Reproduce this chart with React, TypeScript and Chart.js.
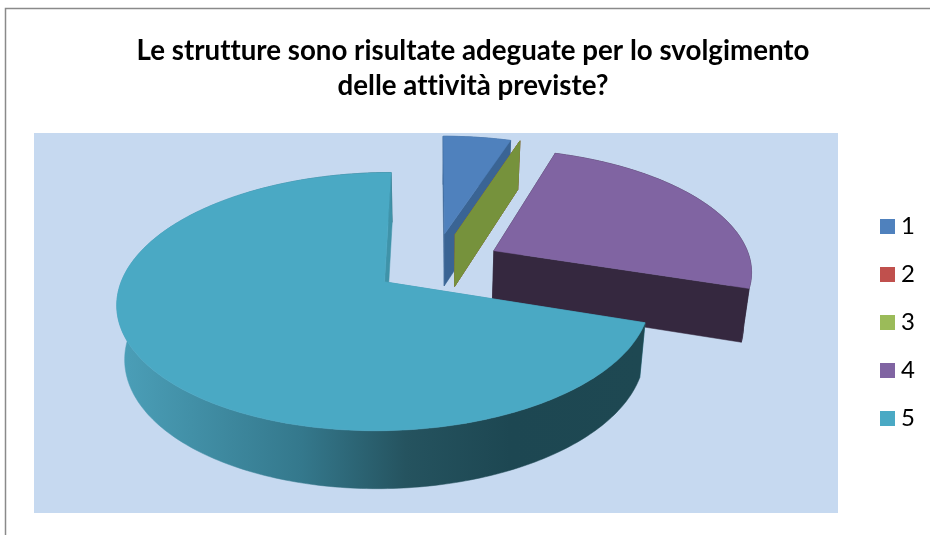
import React, { useEffect, useRef } from "react";
import { Chart, registerables } from "chart.js";

Chart.register(...registerables);

const categories = ["1", "2", "3", "4", "5"];
const values = [5, 0, 0, 25, 70];
const explodePct = [27, 27.5, 27.5, 26.5, 23.2];
const topColors = ["#4f81bd", "#c0504d", "#9bbb59", "#8064a2", "#4aa9c4"];
const radialWallColors = ["#3a6494", "#8c3a38", "#76923c", "#35283f", "#3f93a9"];
const outerWallColors = ["#3a6494", "#8c3a38", "#76923c", "#35283f", "#1e4852"];
const titleLines = [
  "Le strutture sono risultate adeguate per lo svolgimento",
  "delle attività previste?",
];

// View of the pie's tilted plane
const CX = 434, CY = 265, BX = 258, AY = 121, K = 0.15, DEPTH = 53, DEPTH_K = 0.075, BOTTOM_SCALE = 0.975;

const project = (u: number, v: number, lower: boolean) => {
  const w = 1 + K * v;
  const x = (BX * u) / w;
  const y = (-AY * v) / w;
  return lower
    ? { x: CX + x * BOTTOM_SCALE, y: CY + y + DEPTH / (1 + DEPTH_K * v) }
    : { x: CX + x, y: CY + y };
};

const swatch = (color: string) => {
  const c = document.createElement("canvas");
  c.width = 15;
  c.height = 15;
  const g = c.getContext("2d") as CanvasRenderingContext2D;
  g.fillStyle = color;
  g.fillRect(0, 0, 15, 15);
  return c;
};

const piePlugin = {
  id: "tiltedPie",
  beforeDraw(chart: any) {
    const { ctx } = chart;
    ctx.save();
    ctx.fillStyle = "#ffffff";
    ctx.fillRect(0, 0, 930, 535);
    ctx.fillStyle = "#c6d9f0";
    ctx.fillRect(34, 133, 804, 380);
    ctx.strokeStyle = "#8a8a8a";
    ctx.lineWidth = 1.5;
    ctx.beginPath();
    ctx.moveTo(5.5, 536);
    ctx.lineTo(5.5, 8.5);
    ctx.lineTo(931, 8.5);
    ctx.stroke();
    ctx.restore();
    ctx.textRendering = "optimizeSpeed";
  },
  beforeDatasetsDraw(chart: any) {
    const { ctx } = chart;
    const arcs = chart.getDatasetMeta(0).data;
    arcs.forEach((arc: any, i: number) => {
      const { startAngle, endAngle } = arc.getProps(["startAngle", "endAngle"], true);
      const e = explodePct[i] / 100;
      const mid = (startAngle + endAngle) / 2;
      const ou = e * Math.cos(mid);
      const ov = -e * Math.sin(mid);
      const pt = (a: number, r: number, lower: boolean) =>
        project(ou + r * Math.cos(a), ov - r * Math.sin(a), lower);
      const poly = (pts: { x: number; y: number }[], fill: any) => {
        ctx.beginPath();
        pts.forEach((p, n) => (n ? ctx.lineTo(p.x, p.y) : ctx.moveTo(p.x, p.y)));
        ctx.closePath();
        ctx.fillStyle = fill;
        ctx.fill();
        ctx.strokeStyle = fill;
        ctx.lineWidth = 0.5;
        ctx.stroke();
      };
      const radial = (a: number) =>
        poly([pt(a, 0, false), pt(a, 1, false), pt(a, 1, true), pt(a, 0, true)], radialWallColors[i]);
      const steps = Math.max(2, Math.ceil(((endAngle - startAngle) * 180) / Math.PI));
      const angles: number[] = [];
      for (let s = 0; s <= steps; s++) angles.push(startAngle + ((endAngle - startAngle) * s) / steps);

      radial(startAngle);
      if (endAngle > startAngle) {
        let wallFill: any = outerWallColors[i];
        if (i === 4) {
          const g = ctx.createLinearGradient(120, 0, 640, 0);
          g.addColorStop(0, "#4b9fb8");
          g.addColorStop(0.35, "#34788c");
          g.addColorStop(0.55, "#25535f");
          g.addColorStop(0.75, "#1d4752");
          g.addColorStop(1, "#1e4852");
          wallFill = g;
        }
        poly(
          [...angles.map((a) => pt(a, 1, false)), ...angles.slice().reverse().map((a) => pt(a, 1, true))],
          wallFill,
        );
      }
      radial(endAngle);
      if (endAngle > startAngle) {
        poly([pt(startAngle, 0, false), ...angles.map((a) => pt(a, 1, false))], topColors[i]);
      }
    });
    return false;
  },
};

export default function App() {
  const ref = useRef<HTMLCanvasElement>(null);
  useEffect(() => {
    const chart = new Chart(ref.current as HTMLCanvasElement, {
      type: "pie",
      data: {
        labels: categories,
        datasets: [
          {
            data: values,
            backgroundColor: topColors,
            borderWidth: 0,
            offset: explodePct,
          },
        ],
      },
      options: {
        responsive: false,
        animation: false,
        devicePixelRatio: 1,
        layout: { padding: { top: 33.5, right: 5, bottom: 0, left: 21 } },
        plugins: {
          title: {
            display: true,
            text: titleLines,
            color: "#000000",
            font: { family: "Lato", size: 27.7, weight: "bold", lineHeight: 1.26 },
            padding: { top: 0, bottom: 6.5 },
          },
          legend: {
            position: "right",
            fullSize: false,
            labels: {
              boxWidth: 15,
              boxHeight: 15,
              padding: 24,
              color: "#000000",
              font: { family: "Lato", size: 24, lineHeight: 1.2 },
              usePointStyle: true,
              pointStyleWidth: 3,
              generateLabels: (c: any) =>
                (Chart as any).overrides.pie.plugins.legend.labels
                  .generateLabels(c)
                  .map((item: any, i: number) => ({ ...item, pointStyle: swatch(topColors[i]) })),
            },
          },
          tooltip: { enabled: false },
        },
      },
      plugins: [piePlugin],
    } as any);
    return () => chart.destroy();
  }, []);
  return (
    <div style={{ position: "fixed", left: 0, top: 0, width: 930, height: 535 }}>
      <canvas ref={ref} width={930} height={535} style={{ display: "block" }} />
    </div>
  );
}
